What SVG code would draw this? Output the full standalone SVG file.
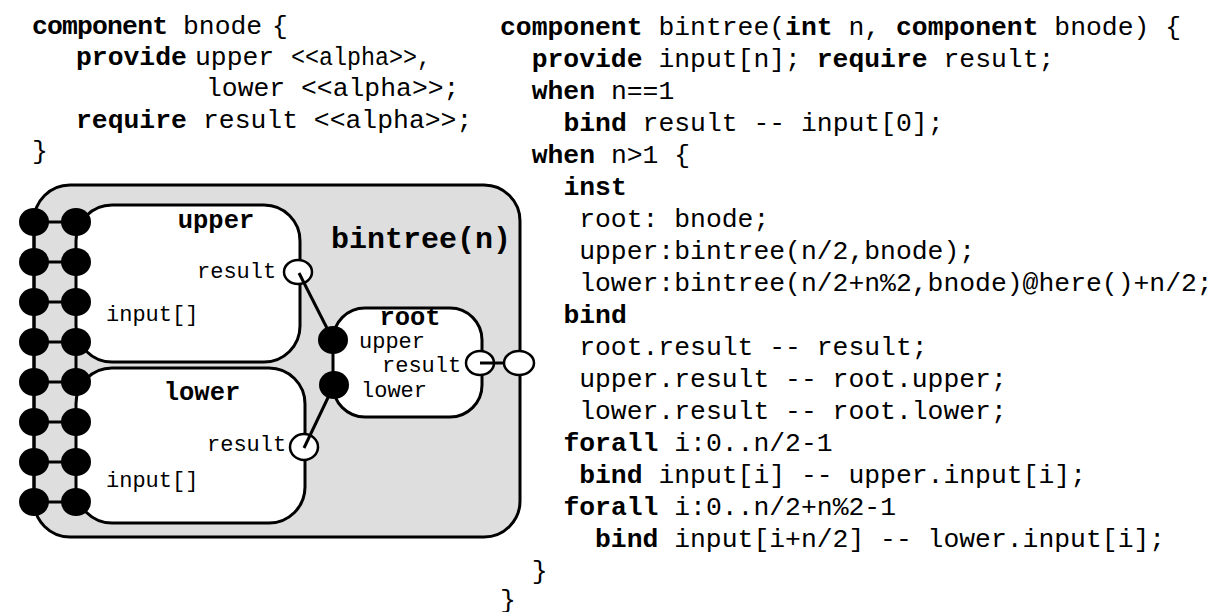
<svg xmlns="http://www.w3.org/2000/svg" width="1223" height="612" viewBox="0 0 1223 612">
<style>
.code{font-family:"Liberation Mono","Courier New",monospace;font-size:26.4px;fill:#000}
.b{font-weight:bold}
.lbl{font-family:"Liberation Mono","Courier New",monospace;font-size:22px;fill:#000}
.title{font-family:"Liberation Mono","Courier New",monospace;font-weight:bold;fill:#000}
.box{fill:#fff;stroke:#000;stroke-width:3}
.dot{fill:#000;stroke:none}
.port{fill:#fff;stroke:#000;stroke-width:2.5}
.wire{stroke:#000;stroke-width:3;fill:none}
</style>
<rect width="1223" height="612" fill="#fff"/>
<g id="code-bnode" class="code">
<text x="32" y="34" class="b" textLength="136">component</text>
<text x="183" y="34">bnode</text>
<text x="272" y="34">{</text>
<text x="76" y="65" class="b">provide</text>
<text x="195" y="65">upper</text>
<text x="291" y="65" textLength="140" lengthAdjust="spacingAndGlyphs">&lt;&lt;alpha&gt;&gt;,</text>
<text x="206" y="96">lower &lt;&lt;alpha&gt;&gt;;</text>
<text x="76" y="128" class="b">require</text>
<text x="203" y="128">result &lt;&lt;alpha&gt;&gt;;</text>
<text x="32" y="159">}</text>
</g>
<g id="code-bintree" class="code">
<text x="500" y="35"><tspan class="b">component</tspan> bintree(<tspan class="b">int</tspan> n, <tspan class="b">component</tspan> bnode) {</text>
<text x="531.7" y="67"><tspan class="b">provide</tspan> input[n]; <tspan class="b">require</tspan> result;</text>
<text x="531.7" y="99"><tspan class="b">when</tspan> n==1</text>
<text x="563.4" y="131"><tspan class="b">bind</tspan> result -- input[0];</text>
<text x="531.7" y="163"><tspan class="b">when</tspan> n&gt;1 {</text>
<text x="563.4" y="195" class="b">inst</text>
<text x="579.2" y="227">root: bnode;</text>
<text x="579.2" y="259">upper:bintree(n/2,bnode);</text>
<text x="579.2" y="291">lower:bintree(n/2+n%2,bnode)@here()+n/2;</text>
<text x="563.4" y="323" class="b">bind</text>
<text x="579.2" y="355">root.result -- result;</text>
<text x="579.2" y="387">upper.result -- root.upper;</text>
<text x="579.2" y="419">lower.result -- root.lower;</text>
<text x="563.4" y="451"><tspan class="b">forall</tspan> i:0..n/2-1</text>
<text x="579.2" y="483"><tspan class="b">bind</tspan> input[i] -- upper.input[i];</text>
<text x="563.4" y="515"><tspan class="b">forall</tspan> i:0..n/2+n%2-1</text>
<text x="595" y="547"><tspan class="b">bind</tspan> input[i+n/2] -- lower.input[i];</text>
<text x="531.7" y="579">}</text>
<text x="500" y="608">}</text>
</g>
<g id="bintree">
<rect x="34" y="185" width="486" height="352" rx="36" ry="36" fill="#dedede" stroke="#000" stroke-width="3"/>
<text class="title" x="331" y="248" font-size="30">bintree(n)</text>
</g>
<g id="upper">
<rect class="box" x="76" y="205" width="224" height="157" rx="36" ry="36"/>
<text class="title" x="216" y="228" font-size="25.5" text-anchor="middle">upper</text>
<text class="lbl" x="197" y="278">result</text>
<text class="lbl" x="106" y="321">input[]</text>
<ellipse class="port" cx="298" cy="272" rx="14" ry="12"/>
</g>
<g id="lower">
<rect class="box" x="76" y="368" width="229" height="155" rx="36" ry="36"/>
<text class="title" x="202" y="400" font-size="25.5" text-anchor="middle">lower</text>
<text class="lbl" x="207" y="451">result</text>
<text class="lbl" x="106" y="487">input[]</text>
<ellipse class="port" cx="304" cy="447" rx="14" ry="13"/>
</g>
<g id="root">
<rect class="box" x="333" y="308" width="149" height="109" rx="32" ry="32"/>
<text class="title" x="410" y="325" font-size="25.5" text-anchor="middle">root</text>
<text class="lbl" x="359" y="348">upper</text>
<text class="lbl" x="382" y="372">result</text>
<text class="lbl" x="361" y="397">lower</text>
<ellipse class="port" cx="480" cy="363" rx="14" ry="12"/>
</g>
<g id="connectors">
<g class="wire">
<line x1="34" y1="222" x2="76" y2="222"/>
<line x1="34" y1="262" x2="76" y2="262"/>
<line x1="34" y1="302" x2="76" y2="302"/>
<line x1="34" y1="342" x2="76" y2="342"/>
<line x1="34" y1="382" x2="76" y2="382"/>
<line x1="34" y1="422" x2="76" y2="422"/>
<line x1="34" y1="462" x2="76" y2="462"/>
<line x1="34" y1="502" x2="76" y2="502"/>
<line x1="34" y1="222" x2="34" y2="502"/>
<line x1="76" y1="342" x2="76" y2="382"/>
<line x1="299" y1="273" x2="333" y2="340"/>
<line x1="304" y1="448" x2="334" y2="385"/>
<line x1="480" y1="363" x2="505" y2="363"/>
</g>
</g>
<g id="ports">
<ellipse class="dot" cx="34" cy="222" rx="15" ry="14"/>
<ellipse class="dot" cx="76" cy="222" rx="15" ry="14"/>
<ellipse class="dot" cx="34" cy="262" rx="15" ry="14"/>
<ellipse class="dot" cx="76" cy="262" rx="15" ry="14"/>
<ellipse class="dot" cx="34" cy="302" rx="15" ry="14"/>
<ellipse class="dot" cx="76" cy="302" rx="15" ry="14"/>
<ellipse class="dot" cx="34" cy="342" rx="15" ry="14"/>
<ellipse class="dot" cx="76" cy="342" rx="15" ry="14"/>
<ellipse class="dot" cx="34" cy="382" rx="15" ry="14"/>
<ellipse class="dot" cx="76" cy="382" rx="15" ry="14"/>
<ellipse class="dot" cx="34" cy="422" rx="15" ry="14"/>
<ellipse class="dot" cx="76" cy="422" rx="15" ry="14"/>
<ellipse class="dot" cx="34" cy="462" rx="15" ry="14"/>
<ellipse class="dot" cx="76" cy="462" rx="15" ry="14"/>
<ellipse class="dot" cx="34" cy="502" rx="15" ry="14"/>
<ellipse class="dot" cx="76" cy="502" rx="15" ry="14"/>
<ellipse class="dot" cx="333" cy="340" rx="15" ry="14"/>
<ellipse class="dot" cx="334" cy="385" rx="15" ry="14"/>
<ellipse class="port" cx="519" cy="363" rx="15" ry="12"/>
</g>
</svg>
